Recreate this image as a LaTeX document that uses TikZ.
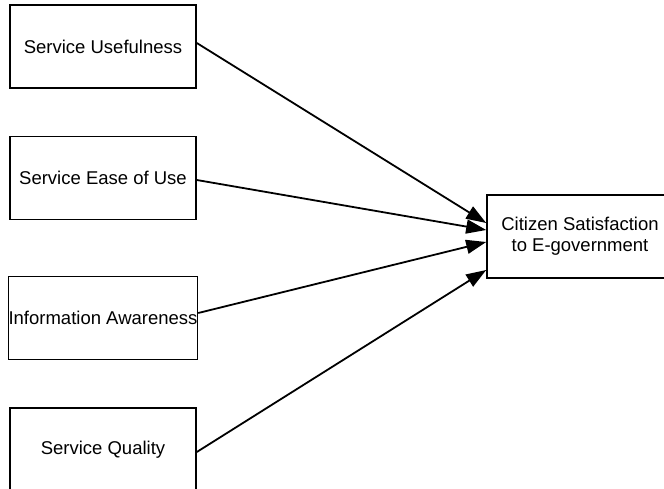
\documentclass[tikz,border=0pt]{standalone}
\usepackage{fontspec}
\setmainfont{Liberation Sans}
\usetikzlibrary{arrows.meta}
\begin{document}
\begin{tikzpicture}[x=1pt,y=-1pt,
  factor/.style={draw, line width=1.6pt, minimum width=186pt, minimum height=83pt,
    inner sep=0pt, align=center, font=\fontsize{18.5}{21}\selectfont},
  link/.style={line width=1.8pt, -{Triangle[length=20pt,width=14pt]}}]
  \useasboundingbox (0,0) rectangle (664,488);
  % predictors
  \node[factor] (use)  at (103,46.5)  {Service Usefulness};
  \node[factor] (ease) at (103,178)   {Service Ease of Use};
  \node[factor] (info) at (103,318)   {Information Awareness};
  \node[factor] (qual) at (103,449.5) {Service Quality};
  % outcome
  \node[factor] (sat)  at (580,236.5) {Citizen Satisfaction\\to E-government};
  % effects
  \draw[link] ([yshift=3.5pt]use.east)  -- ([yshift=13.5pt]sat.west);
  \draw[link] ([yshift=-2pt]ease.east)  -- ([yshift=6.5pt]sat.west);
  \draw[link] ([yshift=5pt]info.east)   -- ([yshift=-5.5pt]sat.west);
  \draw[link] ([yshift=-2.5pt]qual.east) -- ([yshift=-33.5pt]sat.west);
\end{tikzpicture}
\end{document}
